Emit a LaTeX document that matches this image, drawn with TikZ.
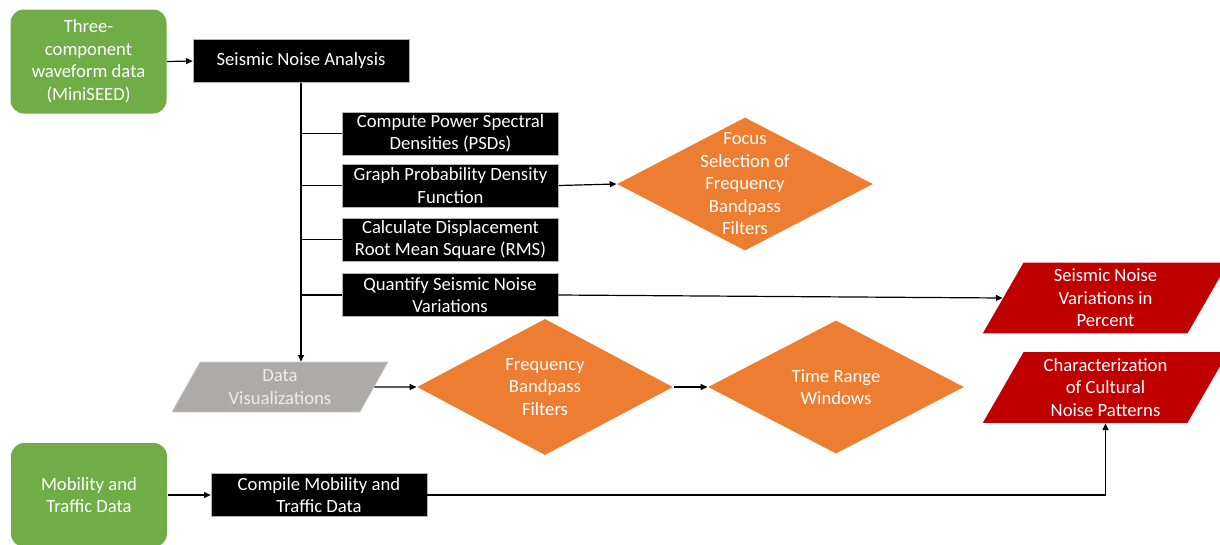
\documentclass[tikz,border=0pt]{standalone}
\usepackage{fontspec}
\setmainfont{Carlito}
\usetikzlibrary{shapes.geometric,arrows.meta}

\definecolor{srcgreen}{RGB}{112,173,71}
\definecolor{decorange}{RGB}{237,125,49}
\definecolor{outred}{RGB}{192,0,0}
\definecolor{vizgrey}{RGB}{174,170,170}

\tikzset{every picture/.style={line width=0.9pt}}
\tikzset{
  srcbox/.style={rounded corners=10pt, fill=srcgreen, text=white, align=center, minimum width=117pt, minimum height=78pt, inner sep=0pt},
  procbox/.style={fill=black, draw=white!70!black, line width=0.5pt, text=white, align=center, minimum width=162pt, minimum height=32.5pt, inner sep=0pt},
  decision/.style={diamond, fill=decorange, text=white, align=center, minimum width=192pt, minimum height=100pt, inner sep=0pt},
  dtext/.style={text=white, align=center, inner sep=0pt},
  iobox/.style={trapezium, trapezium stretches body, text=white, align=center, inner sep=0pt},
  outbox/.style={iobox, fill=outred, trapezium left angle=55, trapezium right angle=125, minimum width=184pt, minimum height=53pt},
  vizbox/.style={iobox, fill=vizgrey, draw=white!80!black, line width=0.5pt, text=white!92!black, trapezium left angle=51, trapezium right angle=129, minimum width=162pt, minimum height=37.5pt},
  flow/.style={-{Triangle[length=5pt,width=4.5pt]}}
}

\begin{document}
\begin{tikzpicture}[x=0.75pt,y=0.75pt,yscale=-1,xscale=1, every node/.style={font=\fontsize{14pt}{16.9pt}\selectfont}]
	\useasboundingbox (0,0) rectangle (1220,544);

	%Rounded Rect: data sources
	\node[srcbox] (wave) at (88.5,61.5) {Three-\\component\\waveform data\\(MiniSEED)};
	\node[srcbox] (mobil) at (89,495) {Mobility and\\Traffic Data};

	%Rectangles: processing steps
	\node[procbox] (sna) at (301,61) {Seismic Noise Analysis};
	\node[procbox] (psd) at (450.5,133.5) {Compute Power Spectral\\Densities (PSDs)};
	\node[procbox] (pdf) at (450.5,185.5) {Graph Probability Density\\Function};
	\node[procbox] (rms) at (450.5,239.5) {Calculate Displacement\\Root Mean Square (RMS)};
	\node[procbox] (quant) at (450,295) {Quantify Seismic Noise\\Variations};
	\node[procbox] (compile) at (319,495) {Compile Mobility and\\Traffic Data};

	%Diamonds
	\node[decision] (focus) at (745,184) {};
	% Text Node (too tall for the diamond, so laid on top)
	\node[dtext] (focus-txt) at (focus) {Focus\\Selection of\\Frequency\\Bandpass\\Filters};
	\node[decision] (fbf) at (545,387) {Frequency\\Bandpass\\Filters};
	\node[decision] (trw) at (836,387) {Time Range\\Windows};

	%Parallelograms
	\node[vizbox] (dataviz) at (280,387) {Data\\Visualizations};
	\node[outbox] (pct) at (1105.5,298) {Seismic Noise\\Variations in\\Percent};
	\node[outbox] (cult) at (1105.5,387.5) {Characterization\\of Cultural\\Noise Patterns};

	%Straight Lines
	\draw[flow] (wave.east) -- (sna.west);
	\draw[flow] (mobil.east) -- (compile.west);
	\draw[flow] (sna.south) -- (sna.south |- dataviz.north);
	\foreach \b in {psd,pdf,rms,quant}
		\draw (sna.south |- \b.west) -- (\b.west);
	\draw[flow] (pdf.east) -- (focus.west);
	\draw[flow] (quant.east) -- (pct.west);
	\draw[flow] (dataviz.east) -- (fbf.west);
	\draw[flow] (fbf.east) -- (trw.west);
	\draw[flow] (compile.east) -| (cult);

\end{tikzpicture}
\end{document}
